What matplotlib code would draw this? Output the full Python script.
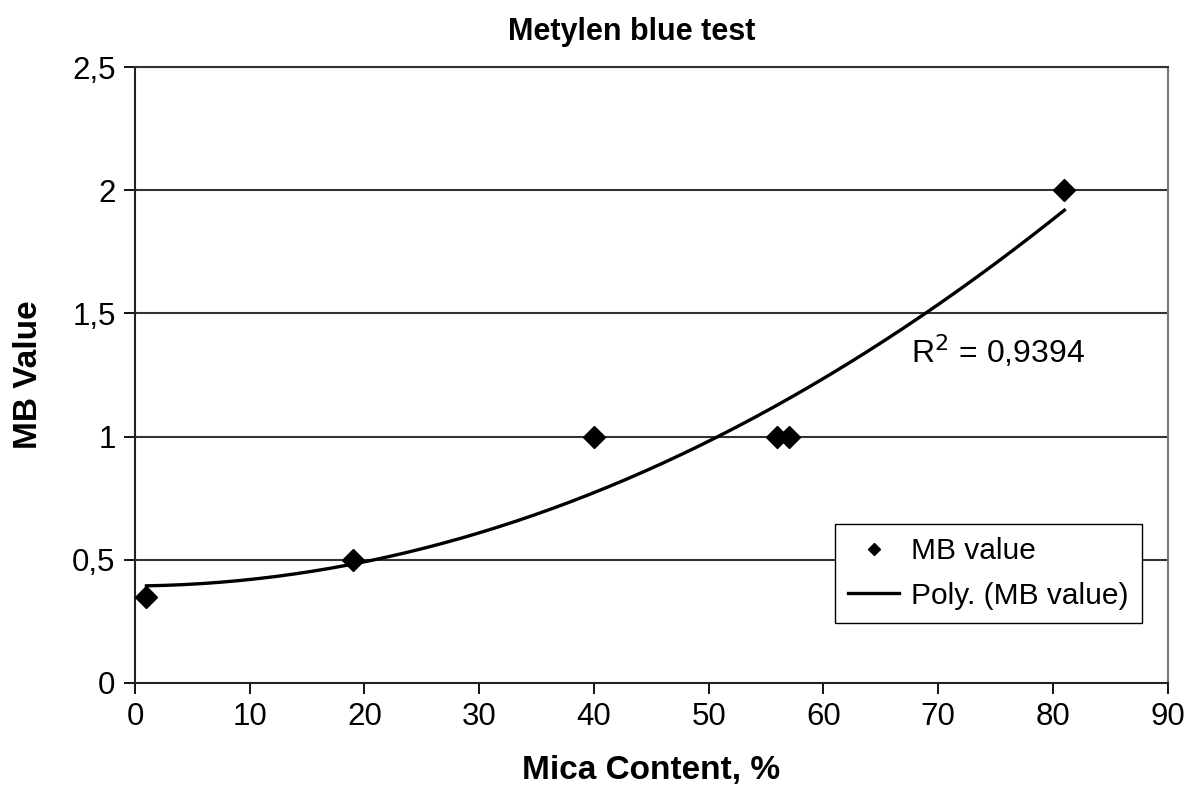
import matplotlib.pyplot as plt
import numpy as np

plt.rcParams['font.family'] = ['Liberation Sans', 'DejaVu Sans']

# data
mica = [1, 19, 40, 56, 57, 81]
mb_value = [0.35, 0.5, 1.0, 1.0, 1.0, 2.0]
y_ticks = [0, 0.5, 1, 1.5, 2, 2.5]
y_tick_labels = ["0", "0,5", "1", "1,5", "2", "2,5"]
x_ticks = [0, 10, 20, 30, 40, 50, 60, 70, 80, 90]

# 2nd order polynomial trendline (like Excel's "Poly.")
coef = np.polyfit(mica, mb_value, 2)
xs = np.linspace(min(mica), max(mica), 200)
ys = np.polyval(coef, xs)

fig = plt.figure(figsize=(11.89, 7.95), dpi=100)
ax = fig.add_axes([0.1135, 0.141, 0.8685, 0.7747])

for yv in y_ticks[1:]:
    ax.axhline(yv, color="#333333", lw=1.5, zorder=1)

ax.plot(mica, mb_value, "D", color="black", markersize=11, zorder=3, label="MB value")
ax.plot(xs, ys, color="black", lw=2.4, zorder=2, label="Poly. (MB value)")

ax.set_xlim(0, 90)
ax.set_ylim(0, 2.5)
ax.set_xticks(x_ticks)
ax.set_yticks(y_ticks)
ax.set_yticklabels(y_tick_labels)
ax.tick_params(direction="out", length=8, width=1.3, labelsize=22.5, pad=6)

for s in ["left", "bottom"]:
    ax.spines[s].set_linewidth(1.5)
    ax.spines[s].set_color("#222222")
ax.spines["top"].set_linewidth(1.5)
ax.spines["top"].set_color("#333333")
ax.spines["right"].set_linewidth(1.5)
ax.spines["right"].set_color("#777777")

ax.text(67.6, 1.3, "R$^2$ = 0,9394", fontsize=23)

fig.text(0.531, 0.96, "Metylen blue test", fontsize=22, fontweight="bold",
         ha="center", va="center")
ax.set_xlabel("Mica Content, %", fontsize=24, fontweight="bold", labelpad=16)
ax.set_ylabel("MB Value", fontsize=24, fontweight="bold", labelpad=20)

leg = ax.legend(loc="lower right", bbox_to_anchor=(0.975, 0.097), fontsize=21.5,
                frameon=True, fancybox=False, framealpha=1, edgecolor="black",
                borderpad=0.45, handlelength=1.7, handletextpad=0.4,
                labelspacing=0.55, borderaxespad=0, markerscale=0.55)
leg.get_frame().set_linewidth(1.0)

fig.savefig("out.png", dpi=100)
